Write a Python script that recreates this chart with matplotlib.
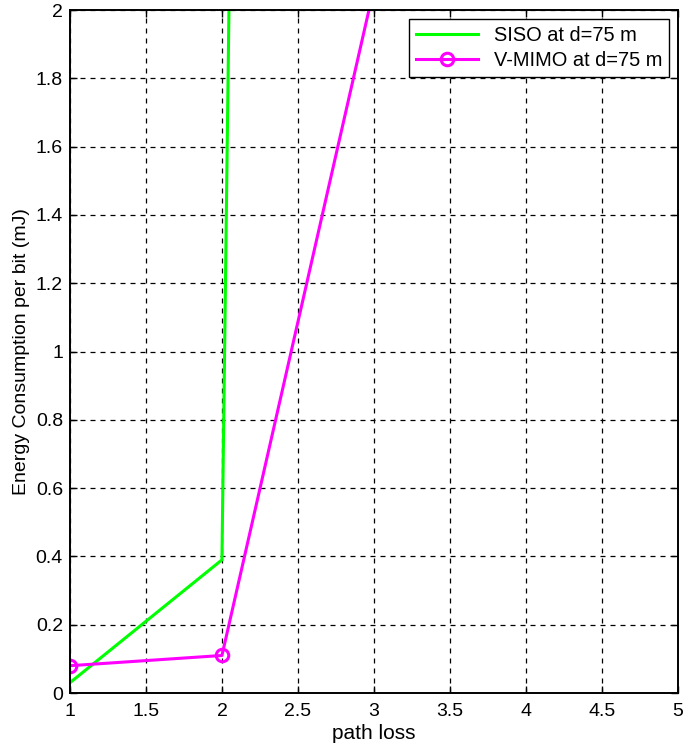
import matplotlib
matplotlib.use("Agg")
import matplotlib.pyplot as plt

# path loss exponent vs energy per bit (values above 2 are clipped by the axes)
path_loss = [1, 2, 3]
siso_energy = [0.03, 0.39, 35.4]
vmimo_energy = [0.08, 0.11, 2.065]

plt.rcParams['font.family'] = ['Liberation Sans', 'DejaVu Sans']

fig = plt.figure(figsize=(6.85, 7.44), dpi=100)
ax = fig.add_axes([0.102, 0.0685, 0.888, 0.918])

ax.plot(path_loss, siso_energy, color='#00ff00', linewidth=2.2, label='SISO at d=75 m')
ax.plot(path_loss, vmimo_energy, color='#ff00ff', linewidth=2.2, marker='o',
        markersize=9, markerfacecolor='none', markeredgewidth=2.2,
        label='V-MIMO at d=75 m')

ax.set_xlim(1, 5)
ax.set_ylim(0, 2)
ax.set_xticks([1, 1.5, 2, 2.5, 3, 3.5, 4, 4.5, 5])
ax.set_xticklabels(['1', '1.5', '2', '2.5', '3', '3.5', '4', '4.5', '5'])
ax.set_yticks([0, 0.2, 0.4, 0.6, 0.8, 1, 1.2, 1.4, 1.6, 1.8, 2])
ax.set_yticklabels(['0', '0.2', '0.4', '0.6', '0.8', '1', '1.2', '1.4', '1.6', '1.8', '2'])
ax.tick_params(direction='in', labelsize=14, length=5, width=1, top=True, right=True)
ax.tick_params(axis='x', pad=7)
ax.tick_params(axis='y', pad=5)

ax.grid(True, color='black', linestyle=(0, (4, 4)), linewidth=0.9)
for s in ax.spines.values():
    s.set_linewidth(1.4)

ax.set_xlabel('path loss', fontsize=15, labelpad=3)
ax.set_ylabel('Energy Consumption per bit (mJ)', fontsize=14, labelpad=4)

leg = ax.legend(loc='upper right', fontsize=14.4, fancybox=False, framealpha=1,
                edgecolor='black', handlelength=3.1, borderaxespad=0.45,
                borderpad=0.35, labelspacing=0.3)
leg.get_frame().set_linewidth(1.0)

fig.savefig('out.png', dpi=100)
